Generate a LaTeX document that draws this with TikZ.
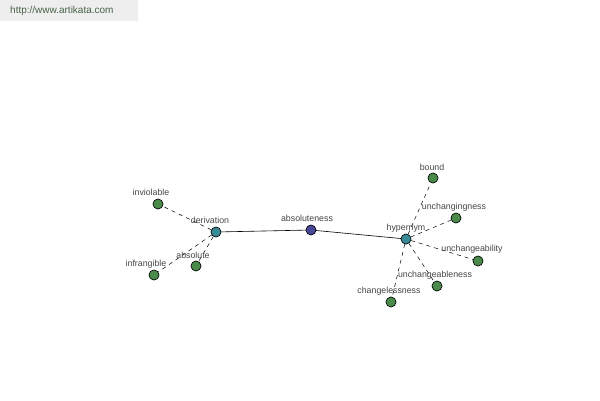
\documentclass[tikz,border=0pt]{standalone}
\usepackage{fontspec}
\setmainfont{Liberation Sans}
\begin{document}
\begin{tikzpicture}[x=1pt,y=-1pt,
  leaf/.style={circle,draw=black,line width=0.5pt,fill=leafgreen,minimum size=10pt,inner sep=0pt},
  hub/.style={circle,draw=black,line width=0.5pt,fill=hubteal,minimum size=10pt,inner sep=0pt},
  root/.style={circle,draw=black,line width=0.5pt,fill=rootblue,minimum size=10pt,inner sep=0pt},
  lbl/.style={font=\fontsize{8.8}{10}\selectfont,text=labelgray,inner sep=0pt},
  rel/.style={draw=black,line width=0.6pt},
  drel/.style={draw=black,line width=0.5pt,dash pattern=on 4pt off 4pt}]
\definecolor{leafgreen}{RGB}{74,138,74}
\definecolor{hubteal}{RGB}{58,138,150}
\definecolor{rootblue}{RGB}{70,70,150}
\definecolor{labelgray}{RGB}{70,70,70}
\definecolor{wmgray}{RGB}{238,238,238}
\definecolor{wmtext}{RGB}{70,100,70}
\useasboundingbox[fill=white] (0,0) rectangle (600,400);
\fill[wmgray] (0,0) rectangle (138,21);
\node[font=\fontsize{10}{11}\selectfont,text=wmtext,anchor=west,inner sep=0pt] (wm) at (10,11) {http://www.artikata.com};
% nodes
\node[hub] (der) at (216,232) {};
\node[root] (abs) at (311,230) {};
\node[hub] (hyp) at (406,239) {};
\node[leaf] (inv) at (158,204) {};
\node[leaf] (inf) at (154,275) {};
\node[leaf] (absl) at (196,266) {};
\node[leaf] (bound) at (433,178) {};
\node[leaf] (uing) at (456,218) {};
\node[leaf] (uabil) at (478,261) {};
\node[leaf] (uable) at (437,286) {};
\node[leaf] (chl) at (391,302) {};
% edges
\draw[rel] (der) -- (abs);
\draw[rel] (abs) -- (hyp);
\draw[drel] (der) -- (inv);
\draw[drel] (der) -- (inf);
\draw[drel] (der) -- (absl);
\draw[drel] (hyp) -- (bound);
\draw[drel] (hyp) -- (uing);
\draw[drel] (hyp) -- (uabil);
\draw[drel] (hyp) -- (uable);
\draw[drel] (hyp) -- (chl);
% redraw nodes on top
\node[hub] at (der) {};
\node[root] at (abs) {};
\node[hub] at (hyp) {};
\node[leaf] at (inv) {};
\node[leaf] at (inf) {};
\node[leaf] at (absl) {};
\node[leaf] at (bound) {};
\node[leaf] at (uing) {};
\node[leaf] at (uabil) {};
\node[leaf] at (uable) {};
\node[leaf] at (chl) {};
% labels
\node[lbl] (lder) at (210,220) {derivation};
\node[lbl] (labs) at (307,218) {absoluteness};
\node[lbl] (lhyp) at (406,228) {hypernym};
\node[lbl] (linv) at (151,192) {inviolable};
\node[lbl] (linf) at (146,264) {infrangible};
\node[lbl] (labsl) at (193,255) {absolute};
\node[lbl] (lbound) at (432,167) {bound};
\node[lbl] (luing) at (454,207) {unchangingness};
\node[lbl] (luabil) at (472,249) {unchangeability};
\node[lbl] (luable) at (435,275) {unchangeableness};
\node[lbl] (lchl) at (389,291) {changelessness};
\end{tikzpicture}
\end{document}
